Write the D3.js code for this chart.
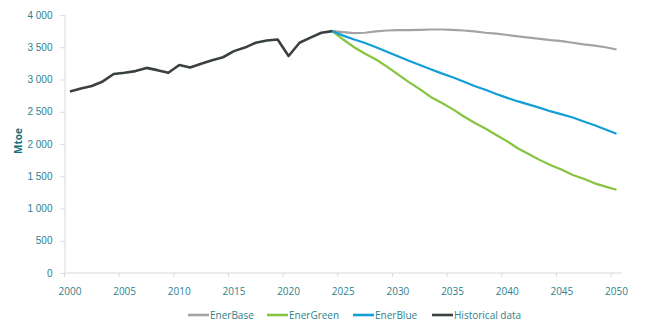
<!DOCTYPE html>
<html lang="en">
<head>
  <meta charset="UTF-8">
  <title>Energy consumption scenarios</title>
  <style>
      body { margin: 0; background: #fff; }
      svg { font-family: "Open Sans", sans-serif; }
      .axis path, .axis line { stroke: #d9d9d9; }
      .axis text { fill: #2e7f8c; font-size: 10px; }
      .line { fill: none; stroke-linejoin: round; }
  </style>
</head>
<body>
<div id="chart"></div>
<script src="https://d3js.org/d3.v7.min.js"></script>
<script>
  const years = d3.range(2000, 2051);
  const histYears = d3.range(2000, 2025);
  const scenYears = d3.range(2024, 2051);

  const historical = [2815, 2860, 2900, 2970, 3085, 3105, 3130, 3180, 3145, 3105,
    3225, 3185, 3245, 3300, 3345, 3440, 3495, 3570, 3605, 3620,
    3365, 3570, 3650, 3725, 3750];

  const enerBase = [3750, 3735, 3720, 3725, 3745, 3760, 3765, 3765, 3770, 3775,
    3775, 3770, 3760, 3745, 3725, 3710, 3690, 3670, 3650, 3630,
    3610, 3595, 3570, 3545, 3525, 3500, 3465];

  const enerGreen = [3750, 3620, 3500, 3400, 3310, 3200, 3080, 2960, 2850, 2730,
    2640, 2540, 2430, 2330, 2240, 2140, 2040, 1930, 1840, 1750,
    1670, 1600, 1520, 1460, 1390, 1340, 1290];

  const enerBlue = [3750, 3680, 3620, 3565, 3500, 3430, 3360, 3290, 3225, 3160,
    3095, 3035, 2970, 2900, 2840, 2775, 2715, 2660, 2610, 2560,
    2505, 2460, 2410, 2350, 2290, 2225, 2160];

  const yTicks = [0, 500, 1000, 1500, 2000, 2500, 3000, 3500, 4000];
  const xTicks = [2000, 2005, 2010, 2015, 2020, 2025, 2030, 2035, 2040, 2045, 2050];

  const series = [
    {name: "EnerBase", x: scenYears, y: enerBase, color: "#a3a3a3", w: 2.2},
    {name: "EnerGreen", x: scenYears, y: enerGreen, color: "#86c440", w: 2.2},
    {name: "EnerBlue", x: scenYears, y: enerBlue, color: "#129fd6", w: 2.2},
    {name: "Historical data", x: histYears, y: historical, color: "#3b4043", w: 2.6}
  ];

  const W = 650, H = 328;
  const svg = d3.select("#chart").append("svg")
    .attr("width", W)
    .attr("height", H);

  const x = d3.scaleBand()
    .domain(years)
    .range([64.5, 622])
    .paddingInner(0)
    .paddingOuter(0);

  const y = d3.scaleLinear()
    .domain([0, 4000])
    .range([273, 15]);

  const fmt = v => d3.format(",")(v).replace(",", " ");

  // y axis
  const yAxis = svg.append("g")
    .attr("class", "axis")
    .attr("transform", `translate(${x.range()[0]},0)`)
    .call(d3.axisLeft(y).tickValues(yTicks).tickSize(4).tickPadding(8).tickFormat(fmt));

  // x axis: ticks at category edges, labels centered in category
  const xAxis = svg.append("g")
    .attr("class", "axis")
    .attr("transform", `translate(0,${y(0)})`);
  xAxis.append("path")
    .attr("d", `M${x.range()[0]},0H${x.range()[1]}`);
  const xt = xAxis.selectAll(".tick")
    .data(xTicks)
    .join("g")
    .attr("class", "tick");
  xt.append("line")
    .attr("x1", d => x(d)).attr("x2", d => x(d))
    .attr("y1", 0).attr("y2", 4);
  xt.append("text")
    .attr("x", d => x(d) + x.bandwidth() / 2)
    .attr("y", 15)
    .attr("dy", "0.71em")
    .attr("text-anchor", "middle")
    .text(d => d);

  svg.append("text")
    .attr("transform", `translate(22,${y(2000) - 3}) rotate(-90)`)
    .attr("text-anchor", "middle")
    .attr("fill", "#15707d")
    .style("font-size", "10px")
    .style("font-weight", "bold")
    .text("Mtoe");

  const cx = d => x(d) + x.bandwidth() / 2;

  series.forEach(s => {
    const line = d3.line()
      .x((d, i) => cx(s.x[i]))
      .y(d => y(d));
    svg.append("path")
      .datum(s.y)
      .attr("class", "line")
      .attr("stroke", s.color)
      .attr("stroke-width", s.w)
      .attr("d", line);
  });

  // legend
  const legendX = [188, 267, 353, 432];
  const legend = svg.append("g").attr("transform", "translate(0,315)");
  series.forEach((s, i) => {
    const g = legend.append("g").attr("transform", `translate(${legendX[i]},0)`);
    g.append("line")
      .attr("x1", 0).attr("x2", 21)
      .attr("stroke", s.color)
      .attr("stroke-width", 2.6);
    g.append("text")
      .attr("x", 22)
      .attr("dy", "0.35em")
      .attr("fill", "#2e7f8c")
      .style("font-size", "10px")
      .text(s.name);
  });
</script>
</body>
</html>
